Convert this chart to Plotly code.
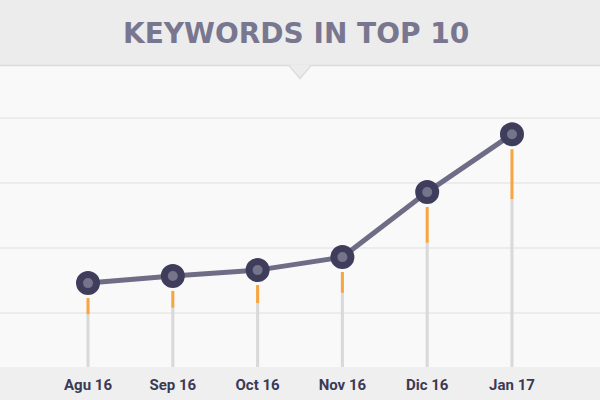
import plotly.graph_objects as go

months = ["Agu 16", "Sep 16", "Oct 16", "Nov 16", "Dic 16", "Jan 17"]
keywords = [14.6, 15.7, 16.6, 18.6, 28.6, 37.5]
gained = [2.5, 2.6, 2.8, 3.2, 5.5, 7.7]

GAP = 2.3
x_idx = list(range(len(months)))
orange_top = [k - GAP for k in keywords]
orange_base = [t - g for t, g in zip(orange_top, gained)]

fig = go.Figure()
fig.add_trace(go.Bar(x=x_idx, y=orange_base, base=0, width=0.036,
                     marker=dict(color="#d9d9d9", line=dict(width=0)),
                     hoverinfo="skip"))
fig.add_trace(go.Bar(x=x_idx, y=gained, base=orange_base, width=0.036,
                     marker=dict(color="#f7a540", line=dict(width=0)),
                     hoverinfo="skip"))
fig.add_trace(go.Scatter(x=x_idx, y=keywords, mode="lines+markers",
                         line=dict(color="#6f6d86", width=5),
                         marker=dict(size=17, color="#76748b",
                                     line=dict(color="#3f3d5c", width=7)),
                         hoverinfo="skip"))

H = 367.0
fig.update_layout(
    width=600, height=400,
    margin=dict(l=0, r=0, t=0, b=33),
    paper_bgcolor="#efefef",
    plot_bgcolor="#f9f9f9",
    showlegend=False,
    barmode="overlay",
    xaxis=dict(range=[-1.038, 6.038], tickmode="array", tickvals=x_idx,
               ticktext=months, showgrid=False, zeroline=False,
               showline=False, ticks="", ticklabelstandoff=7,
               tickfont=dict(family="Roboto", size=15, color="#3b3a55", weight="bold")),
    yaxis=dict(range=[1.692, 58.154], dtick=10, tick0=0, showticklabels=False,
               gridcolor="#ececec", gridwidth=2, zeroline=False, showline=False),
    shapes=[
        dict(type="rect", xref="paper", yref="paper", x0=0, x1=1,
             y0=1 - 65 / H, y1=1.01, fillcolor="#ececec",
             line=dict(width=0), layer="above"),
        dict(type="line", xref="paper", yref="paper", x0=0, x1=1,
             y0=1 - 65.5 / H, y1=1 - 65.5 / H,
             line=dict(color="#dcdcdc", width=1.5), layer="above"),
        dict(type="path", xref="paper", yref="paper",
             path=f"M {290/600},{1-65/H} L {300/600},{1-78/H} L {310/600},{1-65/H} Z",
             fillcolor="#ececec", line=dict(width=0), layer="above"),
        dict(type="path", xref="paper", yref="paper",
             path=f"M {289/600},{1-65.5/H} L {300/600},{1-78.5/H} L {311/600},{1-65.5/H}",
             line=dict(color="#dcdcdc", width=1.5), layer="above"),
    ],
    annotations=[
        dict(text="KEYWORDS IN TOP 10", xref="paper", yref="paper",
             x=296 / 600, y=1 - 33 / H, xanchor="center", yanchor="middle",
             showarrow=False,
             font=dict(family="DejaVu Sans", size=28, color="#78778f", weight="bold")),
    ],
)

fig.write_html("out.html", config={"displayModeBar": False},
               post_script="document.body.style.margin='0';")
